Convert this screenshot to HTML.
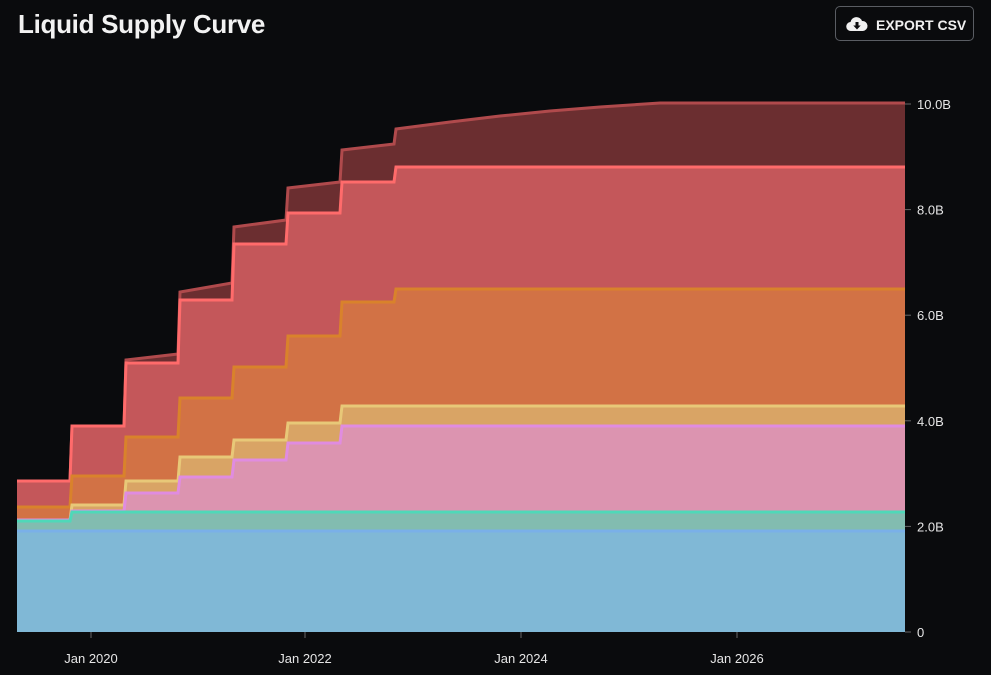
<!DOCTYPE html>
<html><head><meta charset="utf-8"><style>
html,body{margin:0;padding:0;background:#0a0b0d;}
body{width:991px;height:675px;overflow:hidden;position:relative;font-family:"Liberation Sans",sans-serif;}
.t{position:absolute;left:18px;top:9px;color:#f2f2f2;font-size:26px;font-weight:bold;letter-spacing:-0.3px}
.b{position:absolute;left:835px;top:6px;width:139px;height:35px;border:1px solid #5a5d63;border-radius:5px;box-sizing:border-box;color:#f0f0f0;font-size:14px;font-weight:bold;}
.b span{position:absolute;left:40px;top:10px}
</style></head><body>
<div class="t">Liquid Supply Curve</div>
<div class="b"><svg style="position:absolute;left:10px;top:9px" width="22" height="16" viewBox="0 0 22 16"><path d="M5 15 A4.5 4.5 0 0 1 4.5 6 A6 6 0 0 1 16 5 A4.5 4.5 0 0 1 17 15 Z" fill="#f0f0f0"/><path d="M9.5 6h3v3.5h2.2L11 13.5 7.3 9.5h2.2z" fill="#0a0b0d"/></svg><span>EXPORT CSV</span></div>
<svg id="c" width="991" height="675" style="position:absolute;left:0;top:0"></svg>
<script>
var L=17,R=905,B=632;
function step(y0,ch){var p=[[L,y0]],prev=y0;ch.forEach(function(c){p.push([c[0],prev]);p.push([c[0]+2,c[1]]);prev=c[1];});p.push([R,prev]);return p;}
var layers=[
 {f:"#6b2e30",s:"#b04a4c",p:[[17,481],[70,481],[72,426],[124,426],[126,360],[178,354],[180,292],[232,283],[234,227],[286,220],[288,188],[340,182],[342,150],[394,144],[396,129],[450,122],[500,116],[550,111],[600,107],[660,103],[905,103]]},
 {f:"#c4575a",s:"#ff6b6b",p:step(481,[[70,426],[124,363],[178,300],[232,244],[286,213],[340,182],[394,167]])},
 {f:"#d27245",s:"#d9822b",p:step(507,[[70,476],[124,437],[178,398],[232,367],[286,336],[340,302],[394,289]])},
 {f:"#d9a465",s:"#e8c878",p:step(520,[[70,505],[124,481],[178,457],[232,440],[286,423],[340,406]])},
 {f:"#dc94b0",s:"#e08ce0",p:step(520,[[70,511],[124,493],[178,477],[232,460],[286,443],[340,426]])},
 {f:"#82bcb0",s:"#4fd8b8",p:step(521,[[70,512]])},
 {f:"#80b8d6",s:"#7ab0e8",p:step(531,[])}
];
var h='';
layers.forEach(function(l){var pts=l.p.map(function(q){return q.join(',')}).join(' ');
h+='<polygon points="'+pts+' '+R+','+B+' '+L+','+B+'" fill="'+l.f+'"/>';
h+='<polyline points="'+pts+'" fill="none" stroke="'+l.s+'" stroke-width="3"/>';});
for(var i=0;i<=5;i++){var y=B-i*2*52.8;h+='<line x1="905" y1="'+y+'" x2="911" y2="'+y+'" stroke="#666"/>';
h+='<text x="917" y="'+(y+5)+'" fill="#e6e6e6" font-size="13" font-family="Liberation Sans">'+(i==0?'0':(i*2)+'.0B')+'</text>';}
var xs=[[91,'Jan 2020'],[305,'Jan 2022'],[521,'Jan 2024'],[737,'Jan 2026']];
xs.forEach(function(x){h+='<line x1="'+x[0]+'" y1="632" x2="'+x[0]+'" y2="638" stroke="#666"/><text x="'+x[0]+'" y="663" text-anchor="middle" fill="#e6e6e6" font-size="13" font-family="Liberation Sans">'+x[1]+'</text>';});
document.getElementById('c').innerHTML=h;
</script>
</body></html>
